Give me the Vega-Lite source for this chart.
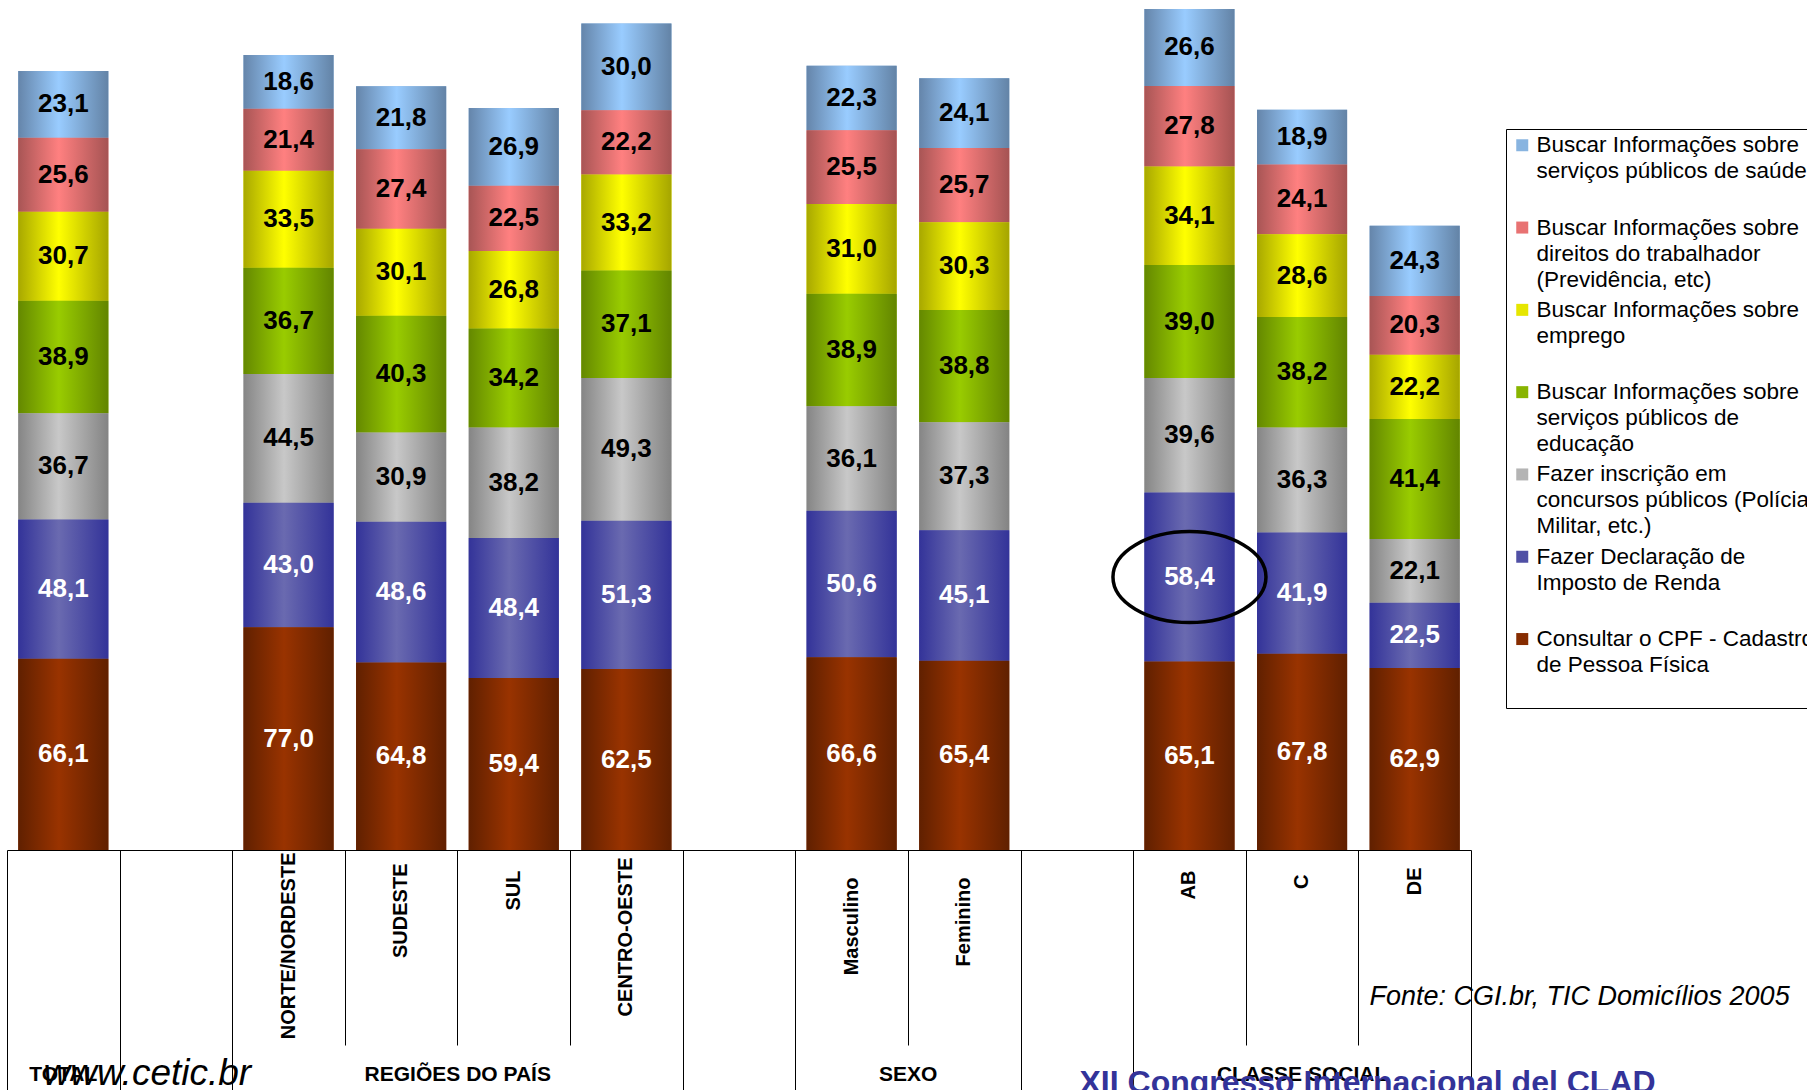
{
  "$schema": "https://vega.github.io/schema/vega-lite/v6.json",
  "width": 1464,
  "height": 850,
  "autosize": {"type": "none"},
  "padding": {"left": 7, "top": 0, "right": 336, "bottom": 240},
  "background": "white",
  "config": {
    "view": {"stroke": null},
    "font": "Liberation Sans",
    "locale": {"number": {"decimal": ",", "thousands": ".", "grouping": [3], "currency": ["R$", ""]}}
  },
  "data": {"values": [
    {"categoria": "TOTAL", "servico": "Consultar o CPF - Cadastro de Pessoa Física", "valor": 66.1},
    {"categoria": "TOTAL", "servico": "Fazer Declaração de Imposto de Renda", "valor": 48.1},
    {"categoria": "TOTAL", "servico": "Fazer inscrição em concursos públicos (Polícia Militar, etc.)", "valor": 36.7},
    {"categoria": "TOTAL", "servico": "Buscar Informações sobre serviços públicos de educação", "valor": 38.9},
    {"categoria": "TOTAL", "servico": "Buscar Informações sobre emprego", "valor": 30.7},
    {"categoria": "TOTAL", "servico": "Buscar Informações sobre direitos do trabalhador (Previdência, etc)", "valor": 25.6},
    {"categoria": "TOTAL", "servico": "Buscar Informações sobre serviços públicos de saúde", "valor": 23.1},
    {"categoria": "NORTE/NORDESTE", "servico": "Consultar o CPF - Cadastro de Pessoa Física", "valor": 77.0},
    {"categoria": "NORTE/NORDESTE", "servico": "Fazer Declaração de Imposto de Renda", "valor": 43.0},
    {"categoria": "NORTE/NORDESTE", "servico": "Fazer inscrição em concursos públicos (Polícia Militar, etc.)", "valor": 44.5},
    {"categoria": "NORTE/NORDESTE", "servico": "Buscar Informações sobre serviços públicos de educação", "valor": 36.7},
    {"categoria": "NORTE/NORDESTE", "servico": "Buscar Informações sobre emprego", "valor": 33.5},
    {"categoria": "NORTE/NORDESTE", "servico": "Buscar Informações sobre direitos do trabalhador (Previdência, etc)", "valor": 21.4},
    {"categoria": "NORTE/NORDESTE", "servico": "Buscar Informações sobre serviços públicos de saúde", "valor": 18.6},
    {"categoria": "SUDESTE", "servico": "Consultar o CPF - Cadastro de Pessoa Física", "valor": 64.8},
    {"categoria": "SUDESTE", "servico": "Fazer Declaração de Imposto de Renda", "valor": 48.6},
    {"categoria": "SUDESTE", "servico": "Fazer inscrição em concursos públicos (Polícia Militar, etc.)", "valor": 30.9},
    {"categoria": "SUDESTE", "servico": "Buscar Informações sobre serviços públicos de educação", "valor": 40.3},
    {"categoria": "SUDESTE", "servico": "Buscar Informações sobre emprego", "valor": 30.1},
    {"categoria": "SUDESTE", "servico": "Buscar Informações sobre direitos do trabalhador (Previdência, etc)", "valor": 27.4},
    {"categoria": "SUDESTE", "servico": "Buscar Informações sobre serviços públicos de saúde", "valor": 21.8},
    {"categoria": "SUL", "servico": "Consultar o CPF - Cadastro de Pessoa Física", "valor": 59.4},
    {"categoria": "SUL", "servico": "Fazer Declaração de Imposto de Renda", "valor": 48.4},
    {"categoria": "SUL", "servico": "Fazer inscrição em concursos públicos (Polícia Militar, etc.)", "valor": 38.2},
    {"categoria": "SUL", "servico": "Buscar Informações sobre serviços públicos de educação", "valor": 34.2},
    {"categoria": "SUL", "servico": "Buscar Informações sobre emprego", "valor": 26.8},
    {"categoria": "SUL", "servico": "Buscar Informações sobre direitos do trabalhador (Previdência, etc)", "valor": 22.5},
    {"categoria": "SUL", "servico": "Buscar Informações sobre serviços públicos de saúde", "valor": 26.9},
    {"categoria": "CENTRO-OESTE", "servico": "Consultar o CPF - Cadastro de Pessoa Física", "valor": 62.5},
    {"categoria": "CENTRO-OESTE", "servico": "Fazer Declaração de Imposto de Renda", "valor": 51.3},
    {"categoria": "CENTRO-OESTE", "servico": "Fazer inscrição em concursos públicos (Polícia Militar, etc.)", "valor": 49.3},
    {"categoria": "CENTRO-OESTE", "servico": "Buscar Informações sobre serviços públicos de educação", "valor": 37.1},
    {"categoria": "CENTRO-OESTE", "servico": "Buscar Informações sobre emprego", "valor": 33.2},
    {"categoria": "CENTRO-OESTE", "servico": "Buscar Informações sobre direitos do trabalhador (Previdência, etc)", "valor": 22.2},
    {"categoria": "CENTRO-OESTE", "servico": "Buscar Informações sobre serviços públicos de saúde", "valor": 30.0},
    {"categoria": "Masculino", "servico": "Consultar o CPF - Cadastro de Pessoa Física", "valor": 66.6},
    {"categoria": "Masculino", "servico": "Fazer Declaração de Imposto de Renda", "valor": 50.6},
    {"categoria": "Masculino", "servico": "Fazer inscrição em concursos públicos (Polícia Militar, etc.)", "valor": 36.1},
    {"categoria": "Masculino", "servico": "Buscar Informações sobre serviços públicos de educação", "valor": 38.9},
    {"categoria": "Masculino", "servico": "Buscar Informações sobre emprego", "valor": 31.0},
    {"categoria": "Masculino", "servico": "Buscar Informações sobre direitos do trabalhador (Previdência, etc)", "valor": 25.5},
    {"categoria": "Masculino", "servico": "Buscar Informações sobre serviços públicos de saúde", "valor": 22.3},
    {"categoria": "Feminino", "servico": "Consultar o CPF - Cadastro de Pessoa Física", "valor": 65.4},
    {"categoria": "Feminino", "servico": "Fazer Declaração de Imposto de Renda", "valor": 45.1},
    {"categoria": "Feminino", "servico": "Fazer inscrição em concursos públicos (Polícia Militar, etc.)", "valor": 37.3},
    {"categoria": "Feminino", "servico": "Buscar Informações sobre serviços públicos de educação", "valor": 38.8},
    {"categoria": "Feminino", "servico": "Buscar Informações sobre emprego", "valor": 30.3},
    {"categoria": "Feminino", "servico": "Buscar Informações sobre direitos do trabalhador (Previdência, etc)", "valor": 25.7},
    {"categoria": "Feminino", "servico": "Buscar Informações sobre serviços públicos de saúde", "valor": 24.1},
    {"categoria": "AB", "servico": "Consultar o CPF - Cadastro de Pessoa Física", "valor": 65.1},
    {"categoria": "AB", "servico": "Fazer Declaração de Imposto de Renda", "valor": 58.4},
    {"categoria": "AB", "servico": "Fazer inscrição em concursos públicos (Polícia Militar, etc.)", "valor": 39.6},
    {"categoria": "AB", "servico": "Buscar Informações sobre serviços públicos de educação", "valor": 39.0},
    {"categoria": "AB", "servico": "Buscar Informações sobre emprego", "valor": 34.1},
    {"categoria": "AB", "servico": "Buscar Informações sobre direitos do trabalhador (Previdência, etc)", "valor": 27.8},
    {"categoria": "AB", "servico": "Buscar Informações sobre serviços públicos de saúde", "valor": 26.6},
    {"categoria": "C", "servico": "Consultar o CPF - Cadastro de Pessoa Física", "valor": 67.8},
    {"categoria": "C", "servico": "Fazer Declaração de Imposto de Renda", "valor": 41.9},
    {"categoria": "C", "servico": "Fazer inscrição em concursos públicos (Polícia Militar, etc.)", "valor": 36.3},
    {"categoria": "C", "servico": "Buscar Informações sobre serviços públicos de educação", "valor": 38.2},
    {"categoria": "C", "servico": "Buscar Informações sobre emprego", "valor": 28.6},
    {"categoria": "C", "servico": "Buscar Informações sobre direitos do trabalhador (Previdência, etc)", "valor": 24.1},
    {"categoria": "C", "servico": "Buscar Informações sobre serviços públicos de saúde", "valor": 18.9},
    {"categoria": "DE", "servico": "Consultar o CPF - Cadastro de Pessoa Física", "valor": 62.9},
    {"categoria": "DE", "servico": "Fazer Declaração de Imposto de Renda", "valor": 22.5},
    {"categoria": "DE", "servico": "Fazer inscrição em concursos públicos (Polícia Militar, etc.)", "valor": 22.1},
    {"categoria": "DE", "servico": "Buscar Informações sobre serviços públicos de educação", "valor": 41.4},
    {"categoria": "DE", "servico": "Buscar Informações sobre emprego", "valor": 22.2},
    {"categoria": "DE", "servico": "Buscar Informações sobre direitos do trabalhador (Previdência, etc)", "valor": 20.3},
    {"categoria": "DE", "servico": "Buscar Informações sobre serviços públicos de saúde", "valor": 24.3}
  ]},
  "transform": [
    {"stack": "valor", "groupby": ["categoria"], "as": ["y0", "y1"]}
  ],
  "layer": [
    {
      "mark": {"type": "bar", "width": {"band": 0.8}},
      "encoding": {
        "x": {
          "field": "categoria", "type": "nominal", "sort": null,
          "scale": {"domain": ["TOTAL", " ", "NORTE/NORDESTE", "SUDESTE", "SUL", "CENTRO-OESTE", "  ", "Masculino", "Feminino", "   ", "AB", "C", "DE"], "paddingInner": 0, "paddingOuter": 0},
          "axis": {
            "orient": "bottom",
            "labels": false,
            "ticks": true,
            "tickBand": "extent",
            "tickColor": "black",
            "tickWidth": 1,
            "tickSize": {"condition": {"test": "datum.extra || indexof(['TOTAL', ' ', 'CENTRO-OESTE', '  ', 'Feminino', '   ', 'DE'], datum.value) >= 0", "value": 240}, "value": 195},
            "domain": true,
            "domainColor": "black",
            "domainWidth": 1,
            "grid": false,
            "title": "Fonte: CGI.br, TIC Domicílios 2005",
            "titleX": 1362,
            "titleY": 154,
            "titleAlign": "left",
            "titleBaseline": "alphabetic",
            "titleAngle": 0,
            "titleFont": "Liberation Sans",
            "titleFontSize": 27,
            "titleFontStyle": "italic",
            "titleFontWeight": "normal",
            "titleColor": "black"
          }
        },
        "y": {
          "field": "y0", "type": "quantitative",
          "scale": {"domain": [0, 293.7], "nice": false, "zero": true},
          "axis": {
            "labels": false, "ticks": false, "domain": false, "grid": false,
            "title": "XII Congresso Internacional del CLAD",
            "titleX": 1072,
            "titleY": 1092,
            "titleAngle": 0,
            "titleAlign": "left",
            "titleBaseline": "alphabetic",
            "titleFont": "Liberation Sans",
            "titleFontSize": 32,
            "titleFontWeight": "bold",
            "titleColor": "#333399"
          }
        },
        "y2": {"field": "y1"},
        "color": {
          "field": "servico", "type": "nominal",
          "scale": {
            "domain": [
              "Buscar Informações sobre serviços públicos de saúde",
              "Buscar Informações sobre direitos do trabalhador (Previdência, etc)",
              "Buscar Informações sobre emprego",
              "Buscar Informações sobre serviços públicos de educação",
              "Fazer inscrição em concursos públicos (Polícia Militar, etc.)",
              "Fazer Declaração de Imposto de Renda",
              "Consultar o CPF - Cadastro de Pessoa Física"
            ],
            "range": ["#88B4E0", "#E87272", "#E6E600", "#88B400", "#B4B4B4", "#5050A5", "#862C00"]
          },
          "legend": {
            "orient": "none",
            "legendX": 1499,
            "legendY": 129,
            "title": null,
            "direction": "vertical",
            "symbolType": "square",
            "symbolSize": 144,
            "symbolStrokeWidth": 0,
            "labelFont": "Liberation Sans",
            "labelFontSize": 22.5,
            "labelColor": "black",
            "labelLimit": 600,
            "labelOffset": 3,
            "padding": 5,
            "strokeColor": "black",
            "rowPadding": 7.3,
            "labelExpr": "{'Buscar Informações sobre serviços públicos de saúde': ['Buscar Informações sobre', 'serviços públicos de saúde', ' '], 'Buscar Informações sobre direitos do trabalhador (Previdência, etc)': ['Buscar Informações sobre', 'direitos do trabalhador', '(Previdência, etc)'], 'Buscar Informações sobre emprego': ['Buscar Informações sobre', 'emprego', ' '], 'Buscar Informações sobre serviços públicos de educação': ['Buscar Informações sobre', 'serviços públicos de', 'educação'], 'Fazer inscrição em concursos públicos (Polícia Militar, etc.)': ['Fazer inscrição em', 'concursos públicos (Polícia', 'Militar, etc.)'], 'Fazer Declaração de Imposto de Renda': ['Fazer Declaração de', 'Imposto de Renda', ' '], 'Consultar o CPF - Cadastro de Pessoa Física': ['Consultar o CPF - Cadastro', 'de Pessoa Física', ' ']}[datum.label]",
            "encode": {"labels": {"update": {"lineHeight": {"value": 26}}}}
          }
        }
      }
    },
    {
      "transform": [{"filter": "datum.servico === 'Buscar Informações sobre serviços públicos de saúde'"}],
      "mark": {"type": "bar", "width": {"band": 0.8}, "fill": {"gradient": "linear", "x1": 0, "x2": 1, "y1": 0, "y2": 0, "stops": [{"offset": 0, "color": "#6585AA"}, {"offset": 0.45, "color": "#99CCFF"}, {"offset": 1, "color": "#6383A6"}]}},
      "encoding": {"x": {"field": "categoria", "type": "nominal", "sort": null, "axis": null}, "y": {"field": "y0", "type": "quantitative", "axis": null}, "y2": {"field": "y1"}}
    },
    {
      "transform": [{"filter": "datum.servico === 'Buscar Informações sobre direitos do trabalhador (Previdência, etc)'"}],
      "mark": {"type": "bar", "width": {"band": 0.8}, "fill": {"gradient": "linear", "x1": 0, "x2": 1, "y1": 0, "y2": 0, "stops": [{"offset": 0, "color": "#A85555"}, {"offset": 0.45, "color": "#FF8080"}, {"offset": 1, "color": "#A55353"}]}},
      "encoding": {"x": {"field": "categoria", "type": "nominal", "sort": null, "axis": null}, "y": {"field": "y0", "type": "quantitative", "axis": null}, "y2": {"field": "y1"}}
    },
    {
      "transform": [{"filter": "datum.servico === 'Buscar Informações sobre emprego'"}],
      "mark": {"type": "bar", "width": {"band": 0.8}, "fill": {"gradient": "linear", "x1": 0, "x2": 1, "y1": 0, "y2": 0, "stops": [{"offset": 0, "color": "#A8A800"}, {"offset": 0.45, "color": "#FFFF00"}, {"offset": 1, "color": "#A5A500"}]}},
      "encoding": {"x": {"field": "categoria", "type": "nominal", "sort": null, "axis": null}, "y": {"field": "y0", "type": "quantitative", "axis": null}, "y2": {"field": "y1"}}
    },
    {
      "transform": [{"filter": "datum.servico === 'Buscar Informações sobre serviços públicos de educação'"}],
      "mark": {"type": "bar", "width": {"band": 0.8}, "fill": {"gradient": "linear", "x1": 0, "x2": 1, "y1": 0, "y2": 0, "stops": [{"offset": 0, "color": "#648800"}, {"offset": 0.45, "color": "#99CC00"}, {"offset": 1, "color": "#628500"}]}},
      "encoding": {"x": {"field": "categoria", "type": "nominal", "sort": null, "axis": null}, "y": {"field": "y0", "type": "quantitative", "axis": null}, "y2": {"field": "y1"}}
    },
    {
      "transform": [{"filter": "datum.servico === 'Fazer inscrição em concursos públicos (Polícia Militar, etc.)'"}],
      "mark": {"type": "bar", "width": {"band": 0.8}, "fill": {"gradient": "linear", "x1": 0, "x2": 1, "y1": 0, "y2": 0, "stops": [{"offset": 0, "color": "#858585"}, {"offset": 0.45, "color": "#C8C8C8"}, {"offset": 1, "color": "#838383"}]}},
      "encoding": {"x": {"field": "categoria", "type": "nominal", "sort": null, "axis": null}, "y": {"field": "y0", "type": "quantitative", "axis": null}, "y2": {"field": "y1"}}
    },
    {
      "transform": [{"filter": "datum.servico === 'Fazer Declaração de Imposto de Renda'"}],
      "mark": {"type": "bar", "width": {"band": 0.8}, "fill": {"gradient": "linear", "x1": 0, "x2": 1, "y1": 0, "y2": 0, "stops": [{"offset": 0, "color": "#333399"}, {"offset": 0.45, "color": "#6A6AB0"}, {"offset": 1, "color": "#333399"}]}},
      "encoding": {"x": {"field": "categoria", "type": "nominal", "sort": null, "axis": null}, "y": {"field": "y0", "type": "quantitative", "axis": null}, "y2": {"field": "y1"}}
    },
    {
      "transform": [{"filter": "datum.servico === 'Consultar o CPF - Cadastro de Pessoa Física'"}],
      "mark": {"type": "bar", "width": {"band": 0.8}, "fill": {"gradient": "linear", "x1": 0, "x2": 1, "y1": 0, "y2": 0, "stops": [{"offset": 0, "color": "#602000"}, {"offset": 0.45, "color": "#993300"}, {"offset": 1, "color": "#602000"}]}},
      "encoding": {"x": {"field": "categoria", "type": "nominal", "sort": null, "axis": null}, "y": {"field": "y0", "type": "quantitative", "axis": null}, "y2": {"field": "y1"}}
    },
    {
      "transform": [{"calculate": "(datum.y0 + datum.y1) / 2", "as": "meio"}],
      "mark": {"type": "text", "font": "Liberation Sans", "fontSize": 26, "fontWeight": "bold", "baseline": "middle", "align": "center"},
      "encoding": {
        "x": {
          "field": "categoria", "type": "nominal", "sort": null,
          "axis": {
            "orient": "bottom",
            "title": null,
            "labelExpr": "datum.value === 'TOTAL' ? '' : datum.label",
            "labelAngle": 270,
            "labelFont": "Liberation Sans",
            "labelFontSize": 20,
            "labelFontWeight": "bold",
            "labelColor": "black",
            "labelPadding": {"condition": [
              {"test": "datum.value === 'NORTE/NORDESTE'", "value": 2},
              {"test": "datum.value === 'CENTRO-OESTE'", "value": 7},
              {"test": "datum.value === 'SUDESTE'", "value": 13},
              {"test": "datum.value === 'DE'", "value": 17},
              {"test": "datum.value === 'SUL' || datum.value === 'AB'", "value": 20},
              {"test": "datum.value === 'C'", "value": 24}
            ], "value": 27},
            "labelLimit": 300,
            "labelOverlap": false,
            "ticks": false,
            "domain": false,
            "grid": false
          }
        },
        "y": {"field": "meio", "type": "quantitative", "axis": null},
        "text": {"field": "valor", "type": "quantitative", "format": ".1f"},
        "color": {
          "condition": {"test": "datum.servico === 'Fazer Declaração de Imposto de Renda' || datum.servico === 'Consultar o CPF - Cadastro de Pessoa Física'", "value": "white"},
          "value": "black"
        }
      }
    },
    {
      "transform": [
        {"filter": "datum.categoria === 'AB' && datum.servico === 'Fazer Declaração de Imposto de Renda'"},
        {"calculate": "(datum.y0 + datum.y1) / 2", "as": "meio"}
      ],
      "mark": {
        "type": "point",
        "filled": false,
        "stroke": "black",
        "strokeWidth": 3.5,
        "opacity": 1,
        "size": 23409,
        "shape": "M -1 0 C -1 -0.3286 -0.5523 -0.595 0 -0.595 C 0.5523 -0.595 1 -0.3286 1 0 C 1 0.3286 0.5523 0.595 0 0.595 C -0.5523 0.595 -1 0.3286 -1 0 Z"
      },
      "encoding": {
        "x": {
          "field": "categoria", "type": "nominal", "sort": null,
          "axis": {
            "orient": "bottom",
            "labelExpr": "datum.value === 'TOTAL' ? 'TOTAL' : datum.value === 'SUL' ? 'REGIÕES DO PAÍS' : datum.value === 'Feminino' ? 'SEXO' : datum.value === 'C' ? 'CLASSE SOCIAL' : ''",
            "labelAngle": 0,
            "labelAlign": "center",
            "labelBaseline": "middle",
            "labelFont": "Liberation Sans",
            "labelFontSize": 21,
            "labelFontWeight": "bold",
            "labelColor": "black",
            "labelPadding": 224,
            "labelLimit": 400,
            "labelOverlap": false,
            "labelOffset": {"condition": {"test": "datum.value === 'SUL' || datum.value === 'Feminino'", "value": -56}, "value": 0},
            "ticks": false,
            "domain": false,
            "grid": false,
            "title": "www.cetic.br",
            "titleX": 36,
            "titleY": 234,
            "titleAlign": "left",
            "titleBaseline": "alphabetic",
            "titleAngle": 0,
            "titleFont": "Liberation Sans",
            "titleFontSize": 37,
            "titleFontStyle": "italic",
            "titleFontWeight": "normal",
            "titleColor": "black"
          }
        },
        "y": {"field": "meio", "type": "quantitative", "axis": null}
      }
    }
  ],
  "resolve": {"axis": {"x": "independent", "y": "independent"}}
}
